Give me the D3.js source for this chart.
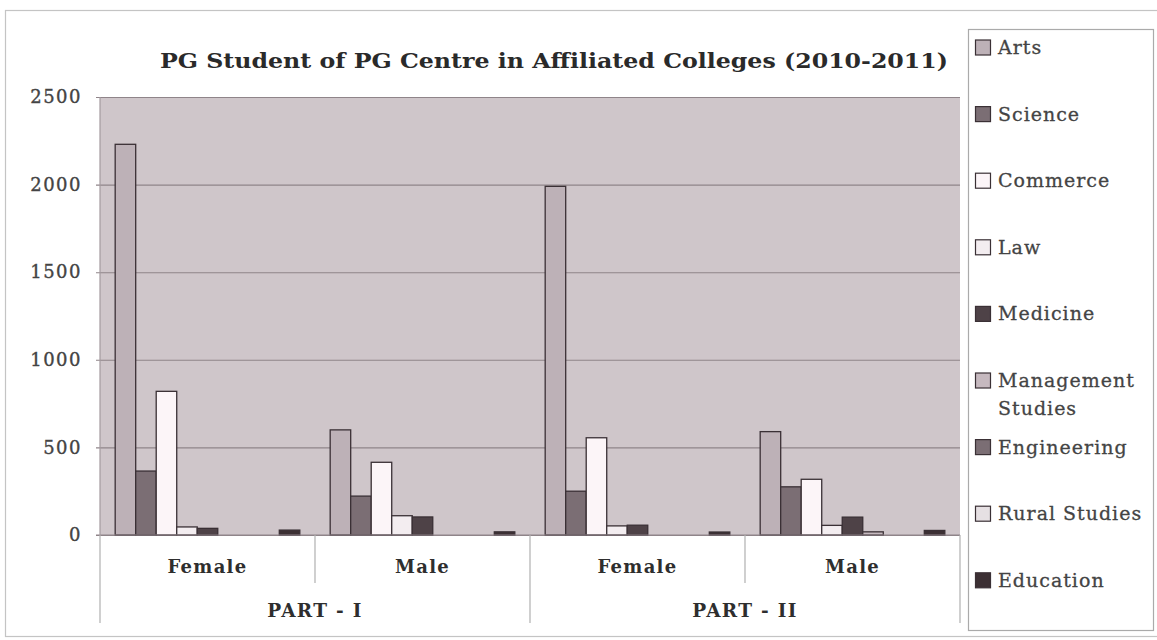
<!DOCTYPE html>
<html><head><meta charset="utf-8">
<script src="https://cdn.jsdelivr.net/npm/d3@7"></script>
<style>
html,body{margin:0;padding:0;background:#fff;}
svg{display:block;font-family:"DejaVu Serif",serif;}
</style></head>
<body>
<svg id="chart" width="1157" height="640"></svg>
<script>
// ---- data ----
const titleText = "PG Student of PG Centre in Affiliated Colleges (2010-2011)";
const series = ["Arts","Science","Commerce","Law","Medicine","Management Studies","Engineering","Rural Studies","Education"];
const groups = ["PART - I|Female","PART - I|Male","PART - II|Female","PART - II|Male"];
const groupLabels = ["Female","Male","Female","Male"];
const parts = ["PART - I","PART - II"];
const arts        = [2230, 600, 1990, 590];
const science     = [365, 222, 250, 275];
const commerce    = [820, 415, 555, 318];
const law         = [46, 110, 52, 55];
const medicine    = [38, 103, 56, 102];
const management  = [0, 0, 0, 18];
const engineering = [0, 0, 0, 0];
const rural       = [0, 0, 0, 0];
const education   = [28, 18, 17, 26];
const yTicks = [0, 500, 1000, 1500, 2000, 2500];
const colors = ["#bdb1b7","#7b6e74","#fcf5f8","#f3edf0","#4e4247","#c6b9bf","#7b6e74","#e6e0e3","#3c3034"];

const valuesBySeries = [arts, science, commerce, law, medicine, management, engineering, rural, education];

(function(){
const svg = d3.select("#chart");
const pLeft = 100, pRight = 960, pTop = 97, pBottom = 535;

// outer border
svg.append("rect").attr("x",5.5).attr("y",10.5).attr("width",1160).attr("height",626)
  .attr("fill","none").attr("stroke","#c4c4c4").attr("stroke-width",1.2);

const x0 = d3.scaleBand().domain(groups).range([pLeft, pRight]).padding(0);
const x1 = d3.scaleBand().domain(series).range([0, x0.bandwidth()]).paddingInner(0).paddingOuter(0.74);
const y = d3.scaleLinear().domain([0, 2500]).range([pBottom, pTop]);

// plot background
svg.append("rect").attr("x",pLeft).attr("y",pTop).attr("width",pRight-pLeft).attr("height",pBottom-pTop)
  .attr("fill","#cfc6ca");
svg.append("line").attr("x1",pLeft).attr("x2",pRight).attr("y1",pTop+0.5).attr("y2",pTop+0.5)
  .attr("stroke","#b3a9ae").attr("stroke-width",1);

// gridlines + y axis
const yAxis = d3.axisLeft(y).tickValues(yTicks).tickSize(-(pRight-pLeft)).tickPadding(18).tickFormat(d3.format("d"));
const gy = svg.append("g").attr("transform",`translate(${pLeft},0)`).call(yAxis);
gy.select(".domain").remove();
gy.selectAll(".tick line").attr("stroke","#8f8489").attr("stroke-width",1.1).attr("x1",-4);
gy.selectAll(".tick text").attr("fill","#444").attr("stroke","#444").attr("stroke-width",0.35)
  .style("font-size","18px").style("letter-spacing","1.5px").style("font-family","'DejaVu Serif',serif");

// bars
const flat = [];
series.forEach((s,si)=>groups.forEach((g,gi)=>flat.push({s, si, g, v: valuesBySeries[si][gi]})));
svg.append("g").selectAll("rect").data(flat.filter(d=>d.v>0)).join("rect")
  .attr("x", d=>x0(d.g)+x1(d.s))
  .attr("y", d=>y(d.v))
  .attr("width", x1.bandwidth())
  .attr("height", d=>y(0)-y(d.v))
  .attr("fill", d=>colors[d.si])
  .attr("stroke","#3a3035").attr("stroke-width",1.3);

// x axis line
svg.append("line").attr("x1",pLeft-4).attr("x2",pRight).attr("y1",pBottom).attr("y2",pBottom)
  .attr("stroke","#8f8489").attr("stroke-width",1.2);

// category separators
const sepG = svg.append("g").attr("stroke","#b0b0b0").attr("stroke-width",1.2);
groups.forEach((g,i)=>{
  const xx = x0(g);
  const long = (i % 2 === 0);
  sepG.append("line").attr("x1",xx).attr("x2",xx).attr("y1",pBottom).attr("y2", long ? 623 : 583);
});
sepG.append("line").attr("x1",pRight).attr("x2",pRight).attr("y1",pBottom).attr("y2",623);
// left plot edge
svg.append("line").attr("x1",pLeft).attr("x2",pLeft).attr("y1",pTop).attr("y2",pBottom)
  .attr("stroke","#a39a9e").attr("stroke-width",1.2);

// group labels
svg.append("g").selectAll("text").data(groups).join("text")
  .attr("x", d=>x0(d)+x0.bandwidth()/2).attr("y",573)
  .attr("text-anchor","middle").attr("fill","#2e2e2e")
  .style("font-size","18px").style("font-weight","bold").style("letter-spacing","1.3px")
  .text((d,i)=>groupLabels[i]);
// part labels
svg.append("g").selectAll("text").data(parts).join("text")
  .attr("x", (d,i)=>x0(groups[i*2]) + x0.bandwidth())
  .attr("y",617)
  .attr("text-anchor","middle").attr("fill","#2e2e2e")
  .style("font-size","18.5px").style("font-weight","bold").style("letter-spacing","1.3px")
  .text(d=>d);

// title
svg.append("text").attr("x",554).attr("y",68).attr("text-anchor","middle")
  .attr("fill","#2a2a2a").style("font-size","20.5px").style("font-weight","bold")
  .attr("textLength",788).attr("lengthAdjust","spacingAndGlyphs")
  .text(titleText);

// legend
svg.append("rect").attr("x",968.5).attr("y",29.5).attr("width",185).attr("height",601)
  .attr("fill","#fff").attr("stroke","#aaaaaa").attr("stroke-width",1.2);
const lg = svg.append("g").selectAll("g").data(series).join("g")
  .attr("transform",(d,i)=>`translate(975,${47 + i*66.6})`);
lg.append("rect").attr("x",0.5).attr("y",-7).attr("width",15).attr("height",15)
  .attr("fill",(d,i)=>colors[i]).attr("stroke","#3a3035").attr("stroke-width",1.2);
lg.each(function(d){
  const words = d === "Management Studies" ? ["Management","Studies"] : [d];
  const t = d3.select(this).append("text").attr("x",23).attr("y",7)
    .attr("fill","#444").attr("stroke","#444").attr("stroke-width",0.3)
    .style("font-size","19px").style("letter-spacing","1px");
  words.forEach((w,wi)=>t.append("tspan").attr("x",23).attr("dy", wi===0?0:28).text(w));
});
})();
</script>
</body></html>
